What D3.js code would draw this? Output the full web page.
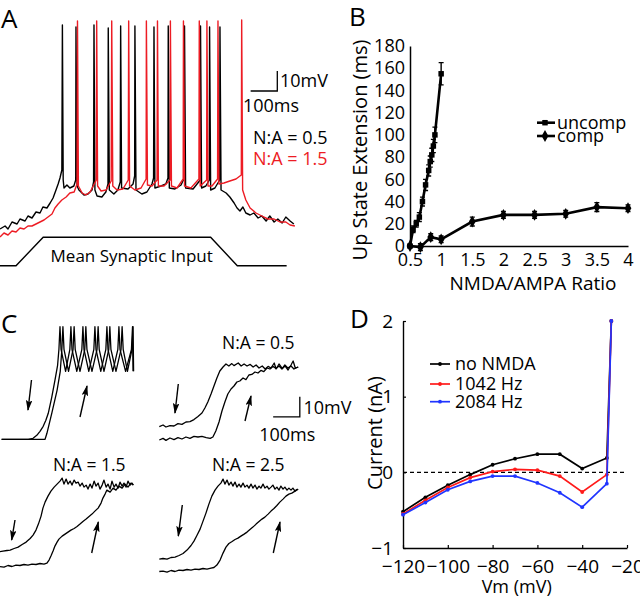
<!DOCTYPE html>
<html>
<head>
<meta charset="utf-8">
<script src="https://cdn.jsdelivr.net/npm/d3@7"></script>
<style>
  body { margin: 0; background: #fff; }
  svg { display: block; }
  text { font-family: "Open Sans", sans-serif; fill: #000; }
</style>
</head>
<body>
<svg id="fig" width="640" height="597"></svg>
<script>
const RED = '#ed1c24';
const BLUE = '#2035ff';

// ---- Panel A: membrane traces, [ms, mV] ----
const traceA_na05 = [[0,-84],[19,-82.5],[30,-84],[45,-80.5],[64,-81.5],[75,-79],[94,-80],[105,-77.5],[120,-78.5],[135,-75.5],[150,-76],[161,-73],[176,-73.5],[188,-71],[199,-68.5],[210,-64.5],[218,-61.5],[225,-58.5],[232,-54.5],[234,18],[237,-59.5],[240,-63.5],[251,-62],[262,-63.5],[277,-62.5],[284,-59.5],[285,17],[289,-62.5],[296,-64.5],[315,-67],[330,-66.5],[345,-64.5],[351,-60.5],[352.5,18],[356,-64.5],[364,-67.5],[382,-68],[397,-65.5],[405,-61.5],[406,16.5],[410,-64.5],[427,-66.5],[442,-64.5],[451,-60.5],[452.5,17.5],[456,-63.5],[480,-64],[499,-61.5],[505,-57.5],[506,17.5],[510,-64.5],[532,-66.5],[551,-65.5],[570,-61.5],[576,-58.5],[577.5,17],[581,-63.5],[604,-62.5],[622,-61.5],[630,-58.5],[631,17.5],[635,-63.5],[656,-64],[679,-62],[691,-58.5],[692,17.5],[696,-63.5],[724,-64],[751,-59.5],[752,17.5],[756,-63.5],[772,-62.5],[785,-59.5],[786,17],[790,-64.5],[806,-63.5],[824,-59.5],[825,17],[829,-64.5],[848,-66],[862,-68],[878,-71],[889,-73.5],[900,-75],[911,-73],[922,-76],[938,-77],[952,-76],[968,-78.5],[982,-77.5],[998,-80],[1012,-77.5],[1028,-80.5],[1042,-79],[1058,-81],[1072,-78],[1088,-80],[1102,-81.5]];

const traceA_na15 = [[0,-88],[15,-86],[30,-87],[45,-85],[60,-85.5],[75,-83.5],[90,-84],[105,-82.5],[120,-82.5],[135,-81.5],[150,-80.5],[165,-79.5],[180,-78],[195,-76.5],[206,-73.5],[218,-71.5],[232,-69.5],[248,-68],[262,-66],[278,-65.5],[289,-61.5],[290.6,20],[294,-62.5],[308,-66],[322,-67],[338,-65.5],[361,-59.5],[362.6,20],[366,-62.5],[379,-65],[398,-64.5],[417,-60],[419,20],[423,-62.5],[439,-64.5],[461,-64],[481,-59.5],[482.6,20],[486,-62.5],[506,-64.5],[529,-63.5],[548,-59],[549,20],[553,-62],[570,-62.5],[589,-59.5],[590.6,20],[594,-62.5],[615,-62.5],[638,-59.5],[639,20],[643,-62.5],[664,-63.5],[687,-59],[688,20],[692,-62.5],[716,-63.5],[746,-59],[747.4,20],[751,-62.5],[775,-59.5],[776,20],[780,-62.5],[795,-62.5],[816,-59],[817.5,20],[821,-61.5],[840,-61],[862,-60],[885,-59],[905,-57],[906.4,20.5],[910,-64.5],[922,-69.5],[938,-73.5],[960,-76],[982,-77.5],[1005,-79],[1028,-79],[1050,-80.5],[1072,-80.5],[1088,-82],[1106,-82.5]];

// mean synaptic input (ms, relative level)
const inputT = [0, 60, 162, 790, 890, 1075];
const inputLevel = [0, 0, 1, 1, 0, 0];

// ---- Panel B: up state extension vs NMDA/AMPA ratio ----
const uncompX = [0.5, 0.55, 0.6, 0.65, 0.7, 0.75, 0.8, 0.825, 0.85, 0.875, 0.9, 1.0];
const uncompY = [0, 15, 20, 26, 40, 55, 68, 76, 82, 90, 100, 155];
const uncompErr = [1, 3, 3, 4, 4, 5, 5, 5, 6, 6, 7, 10];
const compX = [0.5, 0.667, 0.833, 1, 1.5, 2, 2.5, 3, 3.5, 4];
const compY = [0, -1, 8, 6, 22, 28, 28, 29, 35, 34];
const compErr = [1, 3, 3, 3, 4, 3, 3, 3, 4, 3];
const ratioTicks = [0.5, 1, 1.5, 2, 2.5, 3, 3.5, 4];
const extTicks = [0, 20, 40, 60, 80, 100, 120, 140, 160, 180];

// ---- Panel C: ramp traces, [ms, mV above baseline] ----
const c1Down = [[6,0],[106,0],[124,0.5],[138,2],[150,4],[162,6.5],[172,9.5],[181,13],[194,21],[206,29.5],[216,37],[221,45],[225,56.3],[229,45],[246,34],[262,45],[266,56.3],[270,45],[288,34],[307,45],[311,56.3],[315,45],[333,34],[352,45],[356,56.3],[360,45],[378,34],[397,45],[401,56.3],[405,45],[423,34],[442,45],[446,56.3],[450,45],[471,34],[493,45],[497,56.3],[499,34]];
const c1Up = [[6,0],[169,0],[176,3],[195,13.5],[214,24.5],[226,34],[232,45],[236,56.3],[240,45],[257,34],[274,45],[278,56.3],[282,45],[300,34],[318,45],[322,56.3],[326,45],[345,34],[364,45],[368,56.3],[372,45],[390,34],[408,45],[412,56.3],[416,45],[435,34],[454,45],[458,56.3],[462,45],[478,34],[495,45],[499,56.3],[501,34]];

const c2Down = [[0,6.7],[14,7.5],[25,6.5],[40,7.2],[55,7],[70,8.2],[85,7.8],[100,9],[115,9.2],[130,10.2],[145,11.8],[160,13.5],[171,16],[182,19],[194,23],[205,27],[216,31],[227,34.5],[239,36.5],[250,38],[261,37],[272,38.2],[280,37.2],[296,38.5],[307,37],[318,38],[329,37],[341,37.8],[352,36.5],[363,37.5],[374,36],[386,37],[397,35.5],[408,36.8],[419,36],[431,38.5],[438,35.5],[449,38],[461,35.8],[472,37],[483,35],[494,37.5],[502,39.5],[510,36],[521,36.5]];
const c2Up = [[0,0],[14,0.8],[25,-0.2],[40,1],[55,0.2],[70,1.2],[85,0.5],[100,1.5],[115,0.8],[130,1.8],[145,1.5],[160,1.8],[176,1.2],[191,0.8],[201,1.5],[212,4.5],[224,9],[235,14.5],[246,19],[257,23],[269,25.5],[280,27],[291,29],[302,29.5],[314,31],[325,30.2],[336,32.5],[347,32.8],[359,34],[370,33.5],[381,34.8],[392,34.2],[404,36],[415,35.5],[426,36.8],[438,35.8],[449,37],[460,35.5],[471,37.5],[482,36],[494,37],[505,35.5],[521,36.5]];

const c3Down = [[0,7.5],[11,7.8],[26,8.1],[38,8.3],[53,9.1],[68,9.8],[83,11.1],[98,12.3],[113,14.1],[124,15.8],[135,18.3],[144,21.3],[154,25.3],[161,29.3],[169,32.3],[180,35.3],[191,37.8],[203,39.8],[214,41.3],[225,42.8],[233,44.3],[240,41.3],[248,43.8],[255,41.3],[263,42.8],[270,40.8],[278,43.3],[285,41.8],[293,42.3],[300,40.3],[308,41.8],[315,39.8],[323,40.8],[330,38.8],[338,41.3],[345,39.3],[353,42.8],[360,40.3],[368,41.8],[375,38.8],[383,40.8],[390,43.3],[398,39.8],[405,41.3],[413,38.8],[420,42.8],[428,39.8],[435,41.3],[443,39.3],[450,42.3],[458,40.3],[465,41.8],[473,39.8],[480,42.8],[488,40.8],[495,41.8],[500,40.8]];
const c3Up = [[0,0],[15,-0.2],[30,0.6],[45,0.1],[60,0.8],[75,0.6],[90,1.1],[105,0.8],[120,1.3],[135,1.1],[150,1.6],[165,1.3],[176,1.8],[184,3.3],[191,5.3],[199,7.8],[206,10.3],[214,12.3],[221,13.8],[233,15.3],[244,16.3],[255,17.3],[266,18.3],[278,19.1],[289,20.1],[300,21.3],[311,22.6],[323,23.8],[334,25.1],[345,26.3],[356,27.8],[368,29.3],[379,31.8],[386,34.3],[394,36.3],[401,38.3],[413,37.3],[424,39.3],[435,38.3],[446,40.3],[458,39.3],[469,41.3],[480,39.8],[491,41.8],[500,40.8]];

const c4Down = [[0,6.3],[14,6.6],[29,6.3],[44,7.1],[59,7.3],[74,8.1],[89,9.1],[104,10.8],[119,13.1],[130,15.3],[141,18.1],[153,21.3],[164,25.3],[175,29.3],[186,33.8],[197,37.8],[209,40.8],[220,42.8],[231,44.3],[239,46.3],[246,43.8],[254,45.8],[261,43.3],[269,44.8],[276,42.8],[284,44.8],[291,42.3],[299,43.8],[306,42.3],[314,44.3],[321,42.3],[329,43.3],[336,41.8],[344,43.8],[351,41.8],[359,43.3],[366,41.3],[374,42.8],[381,41.8],[389,43.8],[396,41.8],[404,42.8],[411,41.3],[419,42.3],[426,43.3],[434,41.3],[441,42.3],[449,40.8],[456,42.8],[464,41.3],[471,42.3],[479,40.8],[486,41.8],[494,40.8],[501,41.8],[509,40.3],[516,41.3]];
const c4Up = [[0,0.1],[14,0.3],[29,-0.2],[44,0.6],[59,0.1],[74,0.8],[89,0.6],[104,1.1],[119,0.8],[134,1.3],[149,1.1],[164,1.6],[179,1.3],[194,1.8],[205,2.1],[216,3.3],[228,5.8],[239,9.3],[250,12.3],[261,14.1],[273,15.1],[284,16.1],[295,16.8],[306,17.8],[318,18.8],[329,19.8],[340,21.1],[351,22.3],[363,23.8],[374,25.1],[385,26.3],[396,27.3],[408,28.8],[419,30.3],[430,31.6],[441,33.1],[452,34.8],[464,36.3],[475,37.8],[486,38.8],[497,39.3],[509,40.3],[521,41.3]];

// ---- Panel D: I-V curves ----
const vm = [-120, -110, -100, -90, -80, -70, -60, -50, -40, -29, -27];
const iNoNMDA = [-0.52, -0.33, -0.17, -0.03, 0.10, 0.18, 0.24, 0.24, 0.05, 0.19, 2];
const i1042 = [-0.55, -0.37, -0.20, -0.07, 0.01, 0.04, 0.03, -0.05, -0.26, -0.03, 2];
const i2084 = [-0.56, -0.40, -0.23, -0.12, -0.05, -0.05, -0.14, -0.27, -0.46, -0.15, 2];
const vmTicks = [-120, -100, -80, -60, -40, -20];
const currTicks = [-1, 0, 1, 2];
const ivSeries = [
  { name: 'no NMDA', values: iNoNMDA, color: '#000' },
  { name: '1042 Hz', values: i1042, color: '#ff1a1a' },
  { name: '2084 Hz', values: i2084, color: BLUE },
];

const svg = d3.select('#fig');
svg.append('rect').attr('width', 640).attr('height', 597).attr('fill', '#fff');

// arrowhead for panel C
svg.append('defs').append('marker')
  .attr('id', 'head').attr('viewBox', '0 0 10 6')
  .attr('refX', 9).attr('refY', 3)
  .attr('markerWidth', 11).attr('markerHeight', 6.6)
  .attr('markerUnits', 'userSpaceOnUse')
  .attr('orient', 'auto')
  .append('path').attr('d', 'M0,0 L10,3 L0,6 L2,3 Z').attr('fill', '#000');

function letter(t, x, y) {
  svg.append('text').attr('x', x).attr('y', y).attr('font-size', 26).text(t);
}
letter('A', 1, 28);
letter('B', 349, 26);
letter('C', 1, 333);
letter('D', 350, 328);

// ================= A =================
const xA = d3.scaleLinear().domain([0, 1100]).range([0, 293.3]);
const yA = d3.scaleLinear().domain([-90, 20]).range([241, 21]);
const lineA = d3.line().x(d => xA(d[0])).y(d => yA(d[1]));
const gA = svg.append('g');

gA.append('path').datum(traceA_na05).attr('d', lineA)
  .attr('fill', 'none').attr('stroke', '#000').attr('stroke-width', 1.4).attr('stroke-linejoin', 'round');
gA.append('path').datum(traceA_na15).attr('d', lineA)
  .attr('fill', 'none').attr('stroke', RED).attr('stroke-width', 1.4).attr('stroke-linejoin', 'round');

const yIn = d3.scaleLinear().domain([0, 1]).range([265.7, 237.3]);
gA.append('path')
  .datum(d3.zip(inputT, inputLevel))
  .attr('d', d3.line().x(d => xA(d[0])).y(d => yIn(d[1])))
  .attr('fill', 'none').attr('stroke', '#000').attr('stroke-width', 1.4);
gA.append('text').attr('x', 131.7).attr('y', 262).attr('text-anchor', 'middle')
  .attr('font-size', 17).text('Mean Synaptic Input');

// scale bar: 100 ms, 10 mV
gA.append('path')
  .attr('d', `M${xA(940)},${yA(-15)}H${xA(1040)}V${yA(-5)}`)
  .attr('fill', 'none').attr('stroke', '#000').attr('stroke-width', 1.3);
gA.append('text').attr('x', 280).attr('y', 87).attr('font-size', 18).text('10mV');
gA.append('text').attr('x', 271).attr('y', 112).attr('text-anchor', 'middle').attr('font-size', 18).text('100ms');
gA.append('text').attr('x', 253).attr('y', 144).attr('font-size', 18).text('N:A = 0.5');
gA.append('text').attr('x', 253).attr('y', 165).attr('font-size', 18).style('fill', RED).text('N:A = 1.5');

// ================= B =================
const xB = d3.scaleLinear().domain([0.5, 4]).range([410, 628]);
const yB = d3.scaleLinear().domain([0, 180]).range([246, 46]);
const gB = svg.append('g');

const axB = gB.append('g').attr('transform', `translate(0,${yB(0)})`)
  .call(d3.axisBottom(xB).tickValues(ratioTicks).tickFormat(d3.format('')).tickSize(0).tickPadding(7));
const ayB = gB.append('g').attr('transform', `translate(${xB(0.5)},0)`)
  .call(d3.axisLeft(yB).tickValues(extTicks).tickSize(0).tickPadding(5));
[axB, ayB].forEach(a => {
  a.select('.domain').attr('stroke-width', 1.5);
  a.selectAll('text').attr('font-size', 18).style('font-family', '"Open Sans", sans-serif');
});

function drawSeries(g, xs, ys, errs, symbol) {
  const pts = d3.zip(xs, ys, errs);
  g.append('path').datum(pts)
    .attr('d', d3.line().x(d => xB(d[0])).y(d => yB(d[1])))
    .attr('fill', 'none').attr('stroke', '#000').attr('stroke-width', 2.6);
  const eb = g.append('g').attr('stroke', '#000').attr('stroke-width', 1.4);
  pts.forEach(d => {
    const x = xB(d[0]);
    eb.append('path').attr('d',
      `M${x},${yB(d[1] - d[2])}V${yB(d[1] + d[2])}` +
      `M${x - 2.5},${yB(d[1] - d[2])}H${x + 2.5}M${x - 2.5},${yB(d[1] + d[2])}H${x + 2.5}`);
  });
  g.selectAll(null).data(pts).join('path')
    .attr('transform', d => `translate(${xB(d[0])},${yB(d[1])})`)
    .attr('d', d3.symbol(symbol, symbol === d3.symbolSquare ? 30 : 40))
    .attr('fill', '#000');
}
drawSeries(gB, uncompX, uncompY, uncompErr, d3.symbolSquare);
drawSeries(gB, compX, compY, compErr, d3.symbolDiamond);

// legend B
[['uncomp', d3.symbolSquare, 122.7], ['comp', d3.symbolDiamond, 136]].forEach(([name, sym, y]) => {
  gB.append('path').attr('d', `M537,${y}H555`).attr('stroke', '#000').attr('stroke-width', 2.6);
  gB.append('path').attr('transform', `translate(545,${y})`)
    .attr('d', d3.symbol(sym, sym === d3.symbolSquare ? 30 : 40)).attr('fill', '#000');
  gB.append('text').attr('x', 557).attr('y', y + 6).attr('font-size', 18).text(name);
});

gB.append('text').attr('x', 533).attr('y', 290).attr('text-anchor', 'middle')
  .attr('font-size', 19).text('NMDA/AMPA Ratio');
gB.append('text').attr('transform', 'translate(367,150) rotate(-90)').attr('text-anchor', 'middle')
  .attr('font-size', 20).text('Up State Extension (ms)');

// ================= C =================
const xC = d3.scaleLinear().domain([0, 1100]).range([0, 293.3]);
const subpanels = [
  { x0: 0, base: 439.3, traces: [c1Down, c1Up] },
  { x0: 159.3, base: 440, traces: [c2Down, c2Up] },
  { x0: 0, base: 566.7, traces: [c3Down, c3Up] },
  { x0: 159.3, base: 571.7, traces: [c4Down, c4Up] },
];
subpanels.forEach(p => {
  const yC = d3.scaleLinear().domain([0, 60]).range([p.base, p.base - 120]);
  const g = svg.append('g').attr('transform', `translate(${p.x0},0)`);
  const ln = d3.line().x(d => xC(d[0])).y(d => yC(d[1]));
  p.traces.forEach(t => g.append('path').datum(t).attr('d', ln)
    .attr('fill', 'none').attr('stroke', '#000').attr('stroke-width', 1.3).attr('stroke-linejoin', 'round'));
  p.yC = yC;
});

// arrows (pixel positions, from -> to)
const arrows = [
  [31.5, 380, 28, 410], [80, 417, 87, 386],
  [178.3, 384, 175, 413], [245, 421, 251, 396],
  [15, 520, 11.7, 540], [91.7, 553, 98.3, 522],
  [182.3, 505, 178.3, 536], [273.3, 553, 280, 522],
];
svg.append('g').selectAll('line').data(arrows).join('line')
  .attr('x1', d => d[0]).attr('y1', d => d[1]).attr('x2', d => d[2]).attr('y2', d => d[3])
  .attr('stroke', '#000').attr('stroke-width', 1.4).attr('marker-end', 'url(#head)');

// scale bar in C (top-right frame)
{
  const p = subpanels[1];
  svg.append('path')
    .attr('d', `M${p.x0 + xC(427)},${p.yC(11.6)}H${p.x0 + xC(527)}V${p.yC(21.6)}`)
    .attr('fill', 'none').attr('stroke', '#000').attr('stroke-width', 1.3);
}
svg.append('text').attr('x', 303.5).attr('y', 414).attr('font-size', 18).text('10mV');
svg.append('text').attr('x', 287.3).attr('y', 441).attr('text-anchor', 'middle').attr('font-size', 18).text('100ms');
[['N:A = 0.5', 258.3, 349], ['N:A = 1.5', 89.3, 471], ['N:A = 2.5', 248.3, 471]].forEach(([t, x, y]) => {
  svg.append('text').attr('x', x).attr('y', y).attr('text-anchor', 'middle').attr('font-size', 17.5).text(t);
});

// ================= D =================
const xD = d3.scaleLinear().domain([-120, -20]).range([403, 627]);
const yD = d3.scaleLinear().domain([-1, 2]).range([548, 321]);
const gD = svg.append('g');

const axD = gD.append('g').attr('transform', `translate(0,${yD(-1)})`)
  .call(d3.axisBottom(xD).tickValues(vmTicks).tickFormat(d3.format('d'))
    .tickSizeInner(-3).tickSizeOuter(0).tickPadding(12));
const ayD = gD.append('g').attr('transform', `translate(${xD(-120)},0)`)
  .call(d3.axisLeft(yD).tickValues(currTicks).tickFormat(d3.format('d'))
    .tickSizeInner(-3).tickSizeOuter(0).tickPadding(10));
[axD, ayD].forEach(a => {
  a.select('.domain').attr('stroke-width', 1.4);
  a.selectAll('.tick line').attr('stroke-width', 1.2);
  a.selectAll('text').attr('font-size', 19).style('font-family', '"Open Sans", sans-serif');
});

gD.append('line')
  .attr('x1', xD(-120)).attr('x2', xD(-20)).attr('y1', yD(0)).attr('y2', yD(0))
  .attr('stroke', '#000').attr('stroke-width', 1.2).attr('stroke-dasharray', '4,3');

const lineD = d3.line().x(d => xD(d[0])).y(d => yD(d[1]));
ivSeries.forEach(s => {
  const pts = d3.zip(vm, s.values);
  gD.append('path').datum(pts).attr('d', lineD)
    .attr('fill', 'none').attr('stroke', s.color).attr('stroke-width', 1.7);
  gD.selectAll(null).data(pts).join('circle')
    .attr('cx', d => xD(d[0])).attr('cy', d => yD(d[1])).attr('r', 1.9).attr('fill', s.color);
});

ivSeries.forEach((s, i) => {
  const y = [364, 384, 401.7][i];
  gD.append('line').attr('x1', 430).attr('x2', 450).attr('y1', y).attr('y2', y)
    .attr('stroke', s.color).attr('stroke-width', 1.7);
  gD.append('circle').attr('cx', 440).attr('cy', y).attr('r', 1.9).attr('fill', s.color);
  gD.append('text').attr('x', 455).attr('y', y + 6).attr('font-size', 18).text(s.name);
});

gD.append('text').attr('x', 516.7).attr('y', 593).attr('text-anchor', 'middle')
  .attr('font-size', 18).text('Vm (mV)');
gD.append('text').attr('transform', 'translate(382,433) rotate(-90)').attr('text-anchor', 'middle')
  .attr('font-size', 20).text('Current (nA)');
</script>
</body>
</html>
